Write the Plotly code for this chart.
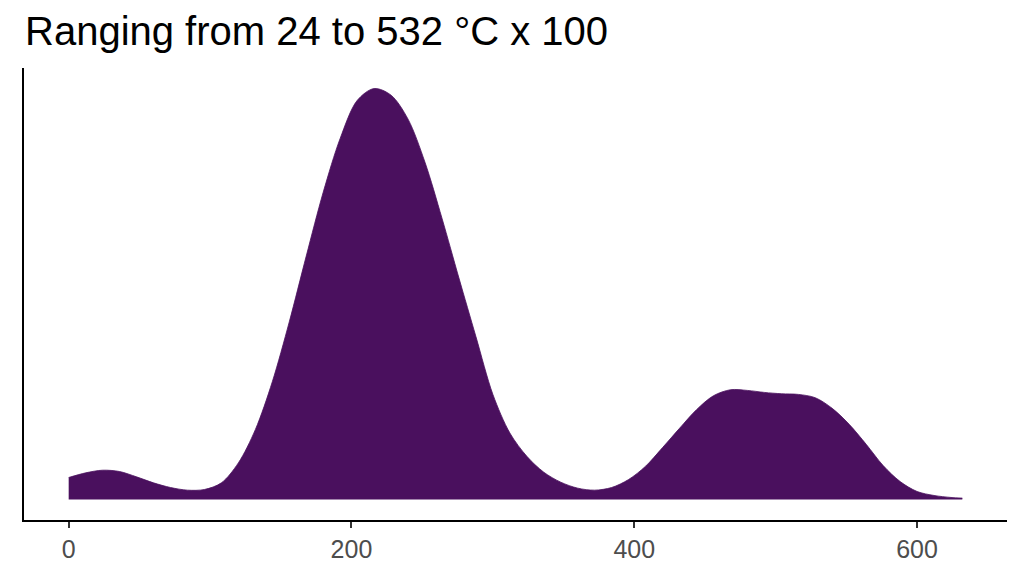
import plotly.graph_objects as go
import numpy as np

# Temperature (°C x 100) grid points and estimated density (x 1e-5)
temp = [0, 12, 24, 36, 48, 60, 72, 84, 96, 108, 120, 132, 144, 156, 168, 180, 192,
        204, 216, 228, 240, 252, 264, 276, 288, 300, 312, 324, 336, 348, 360, 372,
        384, 396, 408, 420, 432, 444, 456, 468, 480, 492, 504, 516, 528, 540, 552,
        564, 576, 588, 600, 612, 624, 632]
density_e5 = [33, 40, 44, 42, 34, 25, 18, 14, 15, 25, 55, 105, 177, 267, 366, 462, 543,
              600, 618, 608, 572, 507, 423, 333, 245, 158, 100, 65, 41, 26, 17, 14,
              18, 30, 50, 78, 107, 135, 156, 165, 164, 161, 159, 158, 153, 137, 113,
              83, 51, 27, 12, 6, 3, 2]

x_ticks = [0, 200, 400, 600]
title_text = "Ranging from 24 to 532 °C x 100"
fill_color = "#4A105E"

y = np.array(density_e5) * 1e-5
ymax = y.max()
xmin, xmax = min(temp), max(temp)
xpad = (xmax - xmin) * 0.05

fig = go.Figure()
fig.add_trace(go.Scatter(
    x=temp, y=y, mode="lines", fill="tozeroy",
    line=dict(color=fill_color, width=0.8, shape="spline", smoothing=0.9),
    fillcolor=fill_color, hoverinfo="skip", showlegend=False,
))

# page body has an 8px margin: figure is sized/offset to compensate
fig.update_layout(
    width=1016, height=568,
    paper_bgcolor="white", plot_bgcolor="white",
    margin=dict(l=16, r=17, t=60, b=56),
    font=dict(family="Liberation Sans, Arial, sans-serif"),
    title=dict(text=title_text, x=17 / 1016, xanchor="left", xref="container",
               y=1 - 23 / 568, yanchor="middle", yref="container",
               font=dict(size=40, color="black")),
    xaxis=dict(range=[xmin - xpad, xmax + xpad], tickvals=x_ticks,
               showgrid=False, zeroline=False, showline=True, linecolor="black",
               linewidth=2, ticks="outside", ticklen=6, tickwidth=2, tickcolor="#333333",
               tickfont=dict(size=25, color="#4D4D4D")),
    yaxis=dict(range=[-0.05 * ymax, 1.05 * ymax], showgrid=False, zeroline=False,
               showline=True, linecolor="black", linewidth=2, showticklabels=False,
               ticks=""),
)

fig.write_html("out.html")
